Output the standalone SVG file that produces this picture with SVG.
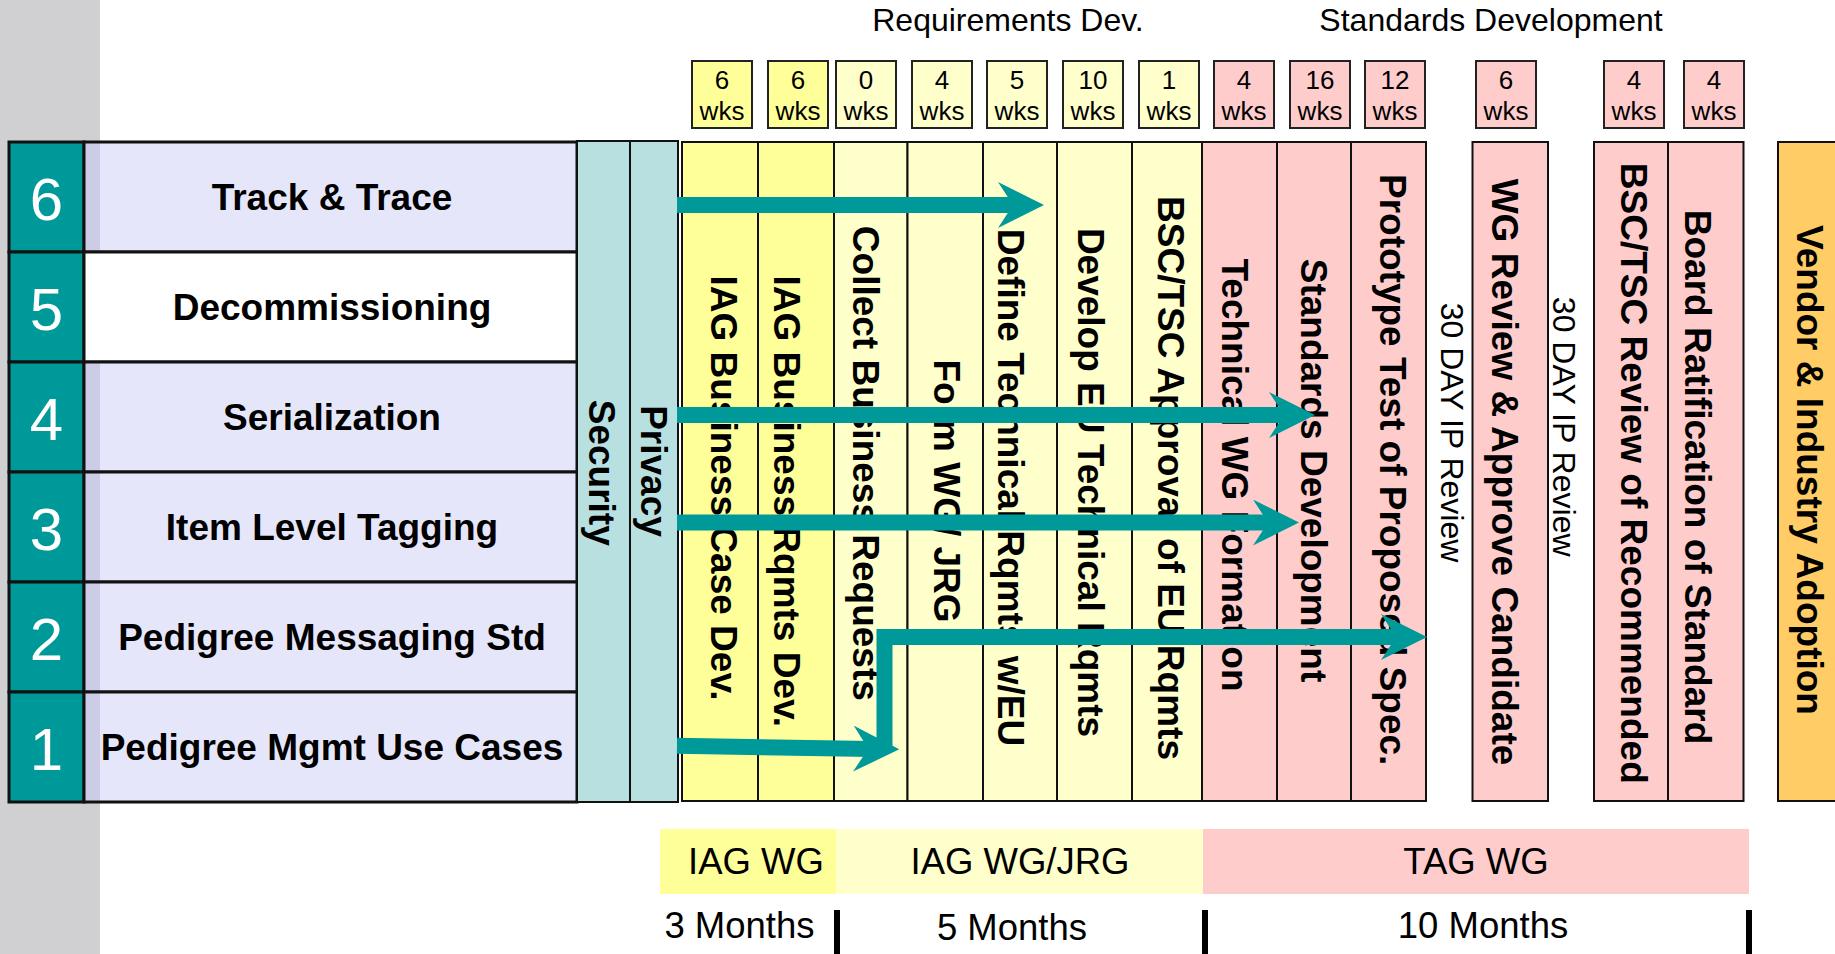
<svg xmlns="http://www.w3.org/2000/svg" width="1835" height="954" viewBox="0 0 1835 954">
<style>
text{font-family:"Liberation Sans",Arial,sans-serif;fill:#000}
.num{font-size:60px;fill:#fff}
.lbl{font-weight:bold;font-size:37px;text-anchor:middle}
.vt{font-weight:bold;font-size:37px;text-anchor:middle}
.ip{font-size:32px;text-anchor:middle}
.wk{font-size:26px;text-anchor:middle}
.hd{font-size:32px;text-anchor:middle}
.bt{font-size:36.5px;text-anchor:middle}
.cell{stroke:#111;stroke-width:3}
.col{stroke:#111;stroke-width:2}
.y1{fill:#FFFF99}.y2{fill:#FFFFCC}.pk{fill:#FFCCCC}.or{fill:#FFCC66}.sp{fill:#B9E0E0}
.tl{fill:#009999}.lv{fill:#E6E6FB}.st{fill:#CCCCE6}
.box{stroke:#222;stroke-width:2}
.arr{fill:none;stroke:#009999;stroke-width:16;stroke-linejoin:miter;marker-end:url(#ah)}
.bar{fill:#000}
</style>
<defs>
<marker id="ah" markerUnits="userSpaceOnUse" viewBox="-46 -23 46 46" refX="-28" refY="0" markerWidth="46" markerHeight="46" orient="auto">
<path d="M0,0 L-46,-23 L-31,0 L-46,23 Z" fill="#009999"/>
</marker>
</defs>
<rect x="0" y="0" width="1835" height="954" fill="#fff"/>
<rect x="0" y="0" width="100" height="954" fill="#D0D0D2"/>

<g id="headers">
<text class="hd" x="1008" y="31">Requirements Dev.</text>
<text class="hd" x="1491" y="31">Standards Development</text>
</g>

<g id="durations">
<g id="d1"><rect class="box y1" x="692" y="61" width="60" height="67"/><text class="wk" x="722" y="89">6</text><text class="wk" x="722" y="120">wks</text></g>
<g id="d2"><rect class="box y1" x="768" y="61" width="60" height="67"/><text class="wk" x="798" y="89">6</text><text class="wk" x="798" y="120">wks</text></g>
<g id="d3"><rect class="box y2" x="836" y="61" width="60" height="67"/><text class="wk" x="866" y="89">0</text><text class="wk" x="866" y="120">wks</text></g>
<g id="d4"><rect class="box y2" x="912" y="61" width="60" height="67"/><text class="wk" x="942" y="89">4</text><text class="wk" x="942" y="120">wks</text></g>
<g id="d5"><rect class="box y2" x="987" y="61" width="60" height="67"/><text class="wk" x="1017" y="89">5</text><text class="wk" x="1017" y="120">wks</text></g>
<g id="d6"><rect class="box y2" x="1063" y="61" width="60" height="67"/><text class="wk" x="1093" y="89">10</text><text class="wk" x="1093" y="120">wks</text></g>
<g id="d7"><rect class="box y2" x="1139" y="61" width="60" height="67"/><text class="wk" x="1169" y="89">1</text><text class="wk" x="1169" y="120">wks</text></g>
<g id="d8"><rect class="box pk" x="1214" y="61" width="60" height="67"/><text class="wk" x="1244" y="89">4</text><text class="wk" x="1244" y="120">wks</text></g>
<g id="d9"><rect class="box pk" x="1290" y="61" width="60" height="67"/><text class="wk" x="1320" y="89">16</text><text class="wk" x="1320" y="120">wks</text></g>
<g id="d10"><rect class="box pk" x="1365" y="61" width="60" height="67"/><text class="wk" x="1395" y="89">12</text><text class="wk" x="1395" y="120">wks</text></g>
<g id="d11"><rect class="box pk" x="1476" y="61" width="60" height="67"/><text class="wk" x="1506" y="89">6</text><text class="wk" x="1506" y="120">wks</text></g>
<g id="d12"><rect class="box pk" x="1604" y="61" width="60" height="67"/><text class="wk" x="1634" y="89">4</text><text class="wk" x="1634" y="120">wks</text></g>
<g id="d13"><rect class="box pk" x="1684" y="61" width="60" height="67"/><text class="wk" x="1714" y="89">4</text><text class="wk" x="1714" y="120">wks</text></g>
</g>

<g id="row6"><rect class="cell tl" x="9" y="142" width="75" height="110"/><rect class="lv" x="84" y="142" width="493" height="110"/><rect class="st" x="85" y="143" width="15" height="108"/><rect class="cell" fill="none" x="84" y="142" width="493" height="110"/><text class="num" x="46.5" y="220" text-anchor="middle">6</text><text class="lbl" x="332" y="210">Track &amp; Trace</text></g>
<g id="row5"><rect class="cell tl" x="9" y="252" width="75" height="110"/><rect class="cell" fill="#fff" x="84" y="252" width="493" height="110"/><text class="num" x="46.5" y="330" text-anchor="middle">5</text><text class="lbl" x="332" y="320">Decommissioning</text></g>
<g id="row4"><rect class="cell tl" x="9" y="362" width="75" height="110"/><rect class="lv" x="84" y="362" width="493" height="110"/><rect class="st" x="85" y="363" width="15" height="108"/><rect class="cell" fill="none" x="84" y="362" width="493" height="110"/><text class="num" x="46.5" y="440" text-anchor="middle">4</text><text class="lbl" x="332" y="430">Serialization</text></g>
<g id="row3"><rect class="cell tl" x="9" y="472" width="75" height="110"/><rect class="lv" x="84" y="472" width="493" height="110"/><rect class="st" x="85" y="473" width="15" height="108"/><rect class="cell" fill="none" x="84" y="472" width="493" height="110"/><text class="num" x="46.5" y="550" text-anchor="middle">3</text><text class="lbl" x="332" y="540">Item Level Tagging</text></g>
<g id="row2"><rect class="cell tl" x="9" y="582" width="75" height="110"/><rect class="lv" x="84" y="582" width="493" height="110"/><rect class="st" x="85" y="583" width="15" height="108"/><rect class="cell" fill="none" x="84" y="582" width="493" height="110"/><text class="num" x="46.5" y="660" text-anchor="middle">2</text><text class="lbl" x="332" y="650">Pedigree Messaging Std</text></g>
<g id="row1"><rect class="cell tl" x="9" y="692" width="75" height="110"/><rect class="lv" x="84" y="692" width="493" height="110"/><rect class="st" x="85" y="693" width="15" height="108"/><rect class="cell" fill="none" x="84" y="692" width="493" height="110"/><text class="num" x="46.5" y="770" text-anchor="middle">1</text><text class="lbl" x="332" y="760">Pedigree Mgmt Use Cases</text></g>

<g id="security"><rect class="col sp" x="577" y="141" width="53" height="661"/><text class="vt" transform="translate(589,472.7) rotate(90)">Security</text></g>
<g id="privacy"><rect class="col sp" x="630" y="141" width="48" height="661"/><text class="vt" transform="translate(641,471) rotate(90)">Privacy</text></g>

<g id="c1"><rect class="col y1" x="682" y="142" width="76" height="659"/><text class="vt" transform="translate(711,488) rotate(90)">IAG Business Case Dev.</text></g>
<g id="c2"><rect class="col y1" x="758" y="142" width="76" height="659"/><text class="vt" transform="translate(774,501.3) rotate(90)">IAG Business Rqmts Dev.</text></g>
<g id="c3"><rect class="col y2" x="834" y="142" width="73.5" height="659"/><text class="vt" transform="translate(853,463.3) rotate(90)">Collect Business Requests</text></g>
<g id="c4"><rect class="col y2" x="907.5" y="142" width="75.5" height="659"/><text class="vt" transform="translate(934,491) rotate(90)">Form WG/ JRG</text></g>
<g id="c5"><rect class="col y2" x="983" y="142" width="74" height="659"/><text class="vt" transform="translate(998,487.5) rotate(90)">Define Technical Rqmts w/EU</text></g>
<g id="c6"><rect class="col y2" x="1057" y="142" width="75" height="659"/><text class="vt" transform="translate(1078,482.5) rotate(90)">Develop EU Technical Rqmts</text></g>
<g id="c7"><rect class="col y2" x="1132" y="142" width="70" height="659"/><text class="vt" transform="translate(1158,478) rotate(90)">BSC/TSC Approval of EU Rqmts</text></g>
<g id="c8"><rect class="col pk" x="1202" y="142" width="75" height="659"/><text class="vt" transform="translate(1222,475) rotate(90)">Technical WG Formation</text></g>
<g id="c9"><rect class="col pk" x="1277" y="142" width="74" height="659"/><text class="vt" transform="translate(1301,470.5) rotate(90)">Standards Development</text></g>
<g id="c10"><rect class="col pk" x="1351" y="142" width="75" height="659"/><text class="vt" transform="translate(1380,469.7) rotate(90)">Prototype Test of Proposed Spec.</text></g>
<g id="ip1"><text class="ip" transform="translate(1441,432.5) rotate(90)">30 DAY IP Review</text></g>
<g id="c11"><rect class="col pk" x="1472.5" y="142" width="75.5" height="659"/><text class="vt" transform="translate(1492,472) rotate(90)">WG Review &amp; Approve Candidate</text></g>
<g id="ip2"><text class="ip" transform="translate(1553,426.7) rotate(90)">30 DAY IP Review</text></g>
<g id="c12"><rect class="col pk" x="1594" y="142" width="74" height="659"/><text class="vt" transform="translate(1621,473.3) rotate(90)">BSC/TSC Review of Recommended</text></g>
<g id="c13"><rect class="col pk" x="1668" y="142" width="75.5" height="659"/><text class="vt" transform="translate(1685,477) rotate(90)">Board Ratification of Standard</text></g>
<g id="c14"><rect class="col or" x="1778" y="142" width="70" height="659"/><text class="vt" transform="translate(1797,470) rotate(90)">Vendor &amp; Industry Adoption</text></g>

<g id="connectors">
<path class="arr" d="M677,205 H1016"/>
<path class="arr" d="M677,415 H1287"/>
<path class="arr" d="M677,522.5 H1271"/>
<path class="arr" d="M677,745.8 L871.3,748.9"/>
<path class="arr" d="M884.5,749 V637 H1399"/>
</g>

<g id="phases">
<g id="p1"><rect class="y1" x="660" y="829" width="176" height="65"/><text class="bt" x="756" y="874">IAG WG</text></g>
<g id="p2"><rect class="y2" x="836" y="829" width="368" height="65"/><text class="bt" x="1020" y="874">IAG WG/JRG</text></g>
<g id="p3"><rect class="pk" x="1203" y="829" width="546" height="65"/><text class="bt" x="1476" y="874">TAG WG</text></g>
</g>

<g id="timeline">
<text class="bt" x="739.5" y="938">3 Months</text>
<text class="bt" x="1012" y="940">5 Months</text>
<text class="bt" x="1483" y="938">10 Months</text>
<rect class="bar" x="834" y="910" width="6" height="44"/>
<rect class="bar" x="1202" y="910" width="6" height="44"/>
<rect class="bar" x="1746" y="910" width="6" height="44"/>
</g>
</svg>
